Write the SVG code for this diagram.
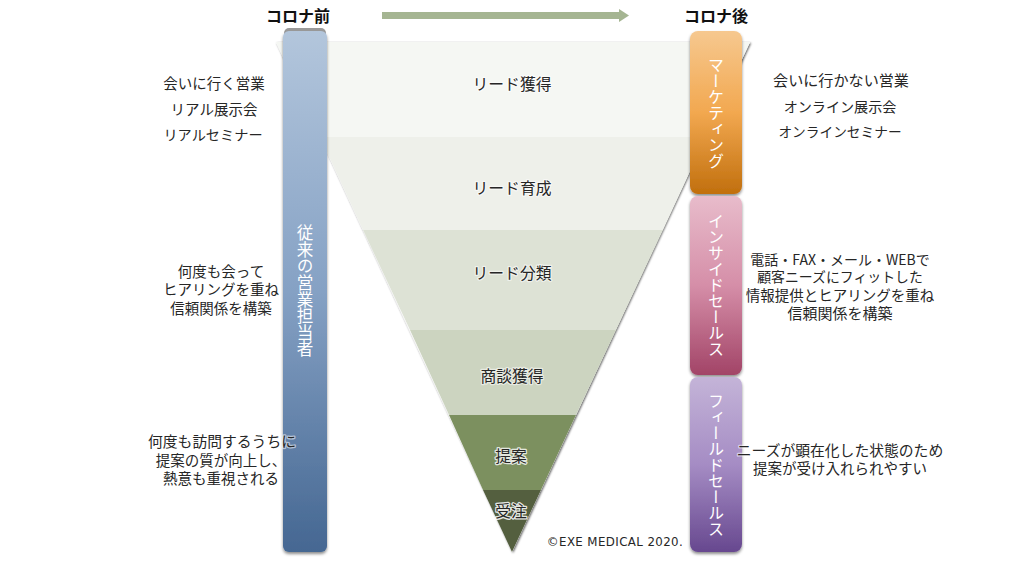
<svg xmlns="http://www.w3.org/2000/svg" width="1024" height="576" viewBox="0 0 1024 576">
<defs>
<linearGradient id="gb" x1="0" y1="0" x2="0" y2="1"><stop offset="0" stop-color="#b3c6dc"/><stop offset="0.5" stop-color="#85a1c4"/><stop offset="1" stop-color="#456792"/></linearGradient>
<linearGradient id="go" x1="0" y1="0" x2="0" y2="1"><stop offset="0" stop-color="#f6c88f"/><stop offset="0.5" stop-color="#f2a850"/><stop offset="1" stop-color="#c16f0d"/></linearGradient>
<linearGradient id="gp" x1="0" y1="0" x2="0" y2="1"><stop offset="0" stop-color="#e8bccb"/><stop offset="0.5" stop-color="#d58ea8"/><stop offset="1" stop-color="#a24467"/></linearGradient>
<linearGradient id="gv" x1="0" y1="0" x2="0" y2="1"><stop offset="0" stop-color="#c4b4d8"/><stop offset="0.5" stop-color="#a58cc4"/><stop offset="1" stop-color="#67488f"/></linearGradient>
<filter id="sh" x="-20%" y="-5%" width="140%" height="110%"><feDropShadow dx="0" dy="2" stdDeviation="1.500" flood-color="#000" flood-opacity="0.45"/></filter>
<filter id="fs" x="-5%" y="-5%" width="110%" height="110%"><feDropShadow dx="1" dy="1" stdDeviation="0.800" flood-color="#000" flood-opacity="0.65"/></filter>
</defs>
<style>
text{font-family:"Noto Sans CJK JP","Noto Sans",sans-serif;fill:#262626;font-size:14.5px;text-anchor:middle}
.h{font-size:16px;font-weight:700;fill:#111}
.f{font-size:15.8px;paint-order:stroke;stroke:#fff;stroke-width:2.500px;stroke-opacity:.55;stroke-linejoin:round}
.g{font-size:14.800px;paint-order:stroke;stroke:#fff;stroke-width:2.500px;stroke-opacity:.55;stroke-linejoin:round}
.v{writing-mode:vertical-rl;fill:#fff;font-size:16px;text-anchor:middle}
.bar{filter:url(#sh)}
</style>
<g id="funnel">
<polygon points="276,42 750,42 512,552" fill="#fff" filter="url(#fs)"/>
<polygon points="276,42 750,42 706,137 320,137" fill="#f5f7f3"/>
<polygon points="320,137 706,137 663,230 363,230" fill="#eef0ea"/>
<polygon points="363,230 663,230 616,330 410,330" fill="#dde2d5"/>
<polygon points="410,330 616,330 576,415 449,415" fill="#ccd4c0"/>
<polygon points="449,415 576,415 541,490 483,490" fill="#7c905f"/>
<polygon points="483,490 541,490 512,552" fill="#545f3f"/>
</g>
<g id="stage-labels">
<text class="f" x="512" y="90">リード獲得</text>
<text class="f" x="512" y="194">リード育成</text>
<text class="f" x="512" y="279">リード分類</text>
<text class="f" x="512" y="382">商談獲得</text>
<text class="f" x="511" y="462" style="stroke-opacity:.8">提案</text>
<text class="f" x="511" y="517" style="stroke-opacity:.85">受注</text>
</g>
<g id="connectors">
<rect x="382" y="12" width="238" height="7" fill="#a5b592"/>
<polygon points="619,9 629,15.500 619,22" fill="#a5b592"/>
</g>
<g id="before">
<text class="h" x="298" y="22">コロナ前</text>
<rect x="284" y="28" width="42" height="12" rx="5" fill="#9a9a9a"/>
<rect class="bar" x="283" y="31" width="44" height="521" rx="6" fill="url(#gb)"/>
<text class="v" x="305" y="291" style="font-size:16.600px">従来の営業担当者</text>
</g>
<g id="after">
<text class="h" x="716" y="22">コロナ後</text>
</g>
<g id="marketing">
<rect class="bar" x="690" y="31" width="52" height="163" rx="8" fill="url(#go)"/>
<text class="v" x="716" y="113">マーケティング</text>
</g>
<g id="inside-sales">
<rect class="bar" x="690" y="196" width="52" height="179" rx="8" fill="url(#gp)"/>
<text class="v" x="716" y="285">インサイドセールス</text>
</g>
<g id="field-sales">
<rect class="bar" x="690" y="377" width="52" height="175" rx="8" fill="url(#gv)"/>
<text class="v" x="716" y="465">フィールドセールス</text>
</g>
<g id="notes-before">
<text x="214" y="89">会いに行く営業</text>
<text x="214" y="115">リアル展示会</text>
<text x="213" y="140" style="font-size:14.200px">リアルセミナー</text>
<text x="221" y="277">何度も会って</text>
<text x="221" y="295">ヒアリングを重ね</text>
<text x="221" y="314">信頼関係を構築</text>
<text class="g" x="222" y="447">何度も訪問するうちに</text>
<text x="221" y="466">提案の質が向上し、</text>
<text x="221" y="484">熱意も重視される</text>
</g>
<g id="notes-after">
<text x="841" y="86" style="font-size:15.100px">会いに行かない営業</text>
<text x="840" y="112" style="font-size:14.100px">オンライン展示会</text>
<text x="840" y="137" style="font-size:13.700px">オンラインセミナー</text>
<text x="840" y="265" style="font-size:14px">電話・FAX・メール・WEBで</text>
<text x="840" y="282" style="font-size:13.900px">顧客ニーズにフィットした</text>
<text x="840" y="301">情報提供とヒアリングを重ね</text>
<text x="840" y="319" style="font-size:15px">信頼関係を構築</text>
<text class="g" x="840" y="456">ニーズが顕在化した状態のため</text>
<text x="840" y="474">提案が受け入れられやすい</text>
</g>
<text id="copyright" x="615" y="546" style="letter-spacing:.4px;font-family:'DejaVu Sans',sans-serif;font-size:11.800px">©EXE MEDICAL 2020.</text>
</svg>
